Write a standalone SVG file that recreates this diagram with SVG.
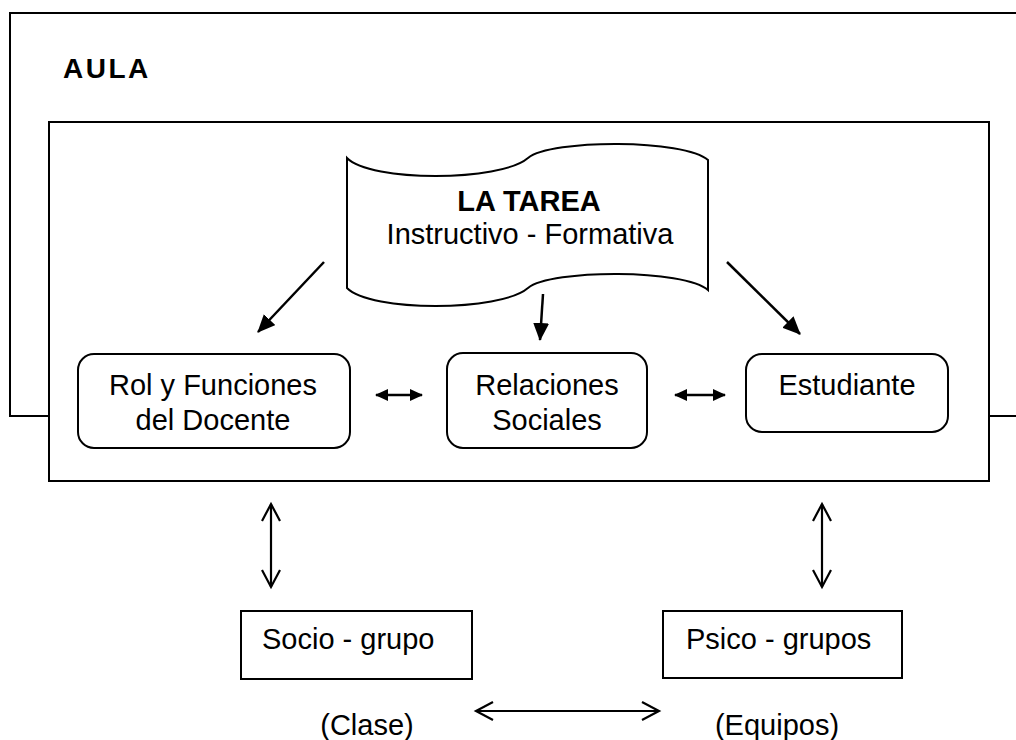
<svg xmlns="http://www.w3.org/2000/svg" width="1016" height="740" viewBox="0 0 1016 740">
<style>
  text { font-family: "Liberation Sans", Arial, sans-serif; font-size: 29px; fill: #000; }
  .b { font-weight: bold; }
  .frame { fill: #fff; stroke: #000; stroke-width: 2; }
  .node { fill: #fff; stroke: #000; stroke-width: 2; }
  .arr { fill: none; stroke: #000; stroke-width: 2.5; }
  .arr2 { fill: none; stroke: #000; stroke-width: 2.2; }
</style>
<defs>
  <marker id="fh" viewBox="0 0 18 16" refX="17" refY="8" markerWidth="18" markerHeight="16" markerUnits="userSpaceOnUse" orient="auto">
    <path d="M0,0 L18,8 L0,16 Z" fill="#000"/>
  </marker>
  <marker id="fs" viewBox="0 0 13 12" refX="12" refY="6" markerWidth="13" markerHeight="12" markerUnits="userSpaceOnUse" orient="auto-start-reverse">
    <path d="M0,0 L13,6 L0,12 Z" fill="#000"/>
  </marker>
  <marker id="ov" viewBox="-1 -1 20 20" refX="17" refY="9" markerWidth="20" markerHeight="20" markerUnits="userSpaceOnUse" orient="auto-start-reverse" overflow="visible">
    <path d="M0,0 L17,9 L0,18" fill="none" stroke="#000" stroke-width="2.2"/>
  </marker>
</defs>

<g id="aula">
  <rect class="frame" x="10" y="13" width="1020" height="403"/>
  <text class="b" x="63" y="78" style="font-size:28px;letter-spacing:2.5px">AULA</text>
</g>

<g id="inner">
  <rect class="frame" x="49" y="122" width="940" height="359"/>
</g>

<g id="tarea">
  <path class="node" d="M347,158 C370,182 500,182 528,158 C551,139 685,139 708,160 L708,290 C685,269 551,269 528,288 C500,312 370,312 347,288 Z"/>
  <text class="b" x="529" y="211" text-anchor="middle">LA TAREA</text>
  <text x="530" y="244" text-anchor="middle">Instructivo - Formativa</text>
</g>

<g id="rol">
  <rect class="node" x="78" y="354" width="272" height="94" rx="16"/>
  <text x="213" y="395" text-anchor="middle">Rol y Funciones</text>
  <text x="213" y="430" text-anchor="middle">del Docente</text>
</g>

<g id="relaciones">
  <rect class="node" x="447" y="353" width="200" height="95" rx="16"/>
  <text x="547" y="395" text-anchor="middle">Relaciones</text>
  <text x="547" y="430" text-anchor="middle">Sociales</text>
</g>

<g id="estudiante">
  <rect class="node" x="746" y="354" width="202" height="78" rx="16"/>
  <text x="847" y="395" text-anchor="middle">Estudiante</text>
</g>

<g id="socio">
  <rect class="node" x="241" y="611" width="231" height="68"/>
  <text x="262" y="649">Socio - grupo</text>
  <text x="367" y="735" text-anchor="middle">(Clase)</text>
</g>

<g id="psico">
  <rect class="node" x="663" y="611" width="239" height="67"/>
  <text x="686" y="649">Psico - grupos</text>
  <text x="777" y="735" text-anchor="middle">(Equipos)</text>
</g>

<g id="connectors">
  <line class="arr" x1="324" y1="262" x2="258" y2="332" marker-end="url(#fh)"/>
  <line class="arr" x1="543" y1="294" x2="540" y2="340" marker-end="url(#fh)"/>
  <line class="arr" x1="727" y1="262" x2="800" y2="334" marker-end="url(#fh)"/>
  <line class="arr" x1="376" y1="395" x2="422" y2="395" marker-start="url(#fs)" marker-end="url(#fs)"/>
  <line class="arr" x1="675" y1="395" x2="725" y2="395" marker-start="url(#fs)" marker-end="url(#fs)"/>
  <line class="arr2" x1="271" y1="504" x2="271" y2="587" marker-start="url(#ov)" marker-end="url(#ov)"/>
  <line class="arr2" x1="822" y1="504" x2="822" y2="587" marker-start="url(#ov)" marker-end="url(#ov)"/>
  <line class="arr2" x1="476" y1="711" x2="659" y2="711" marker-start="url(#ov)" marker-end="url(#ov)"/>
</g>
</svg>
